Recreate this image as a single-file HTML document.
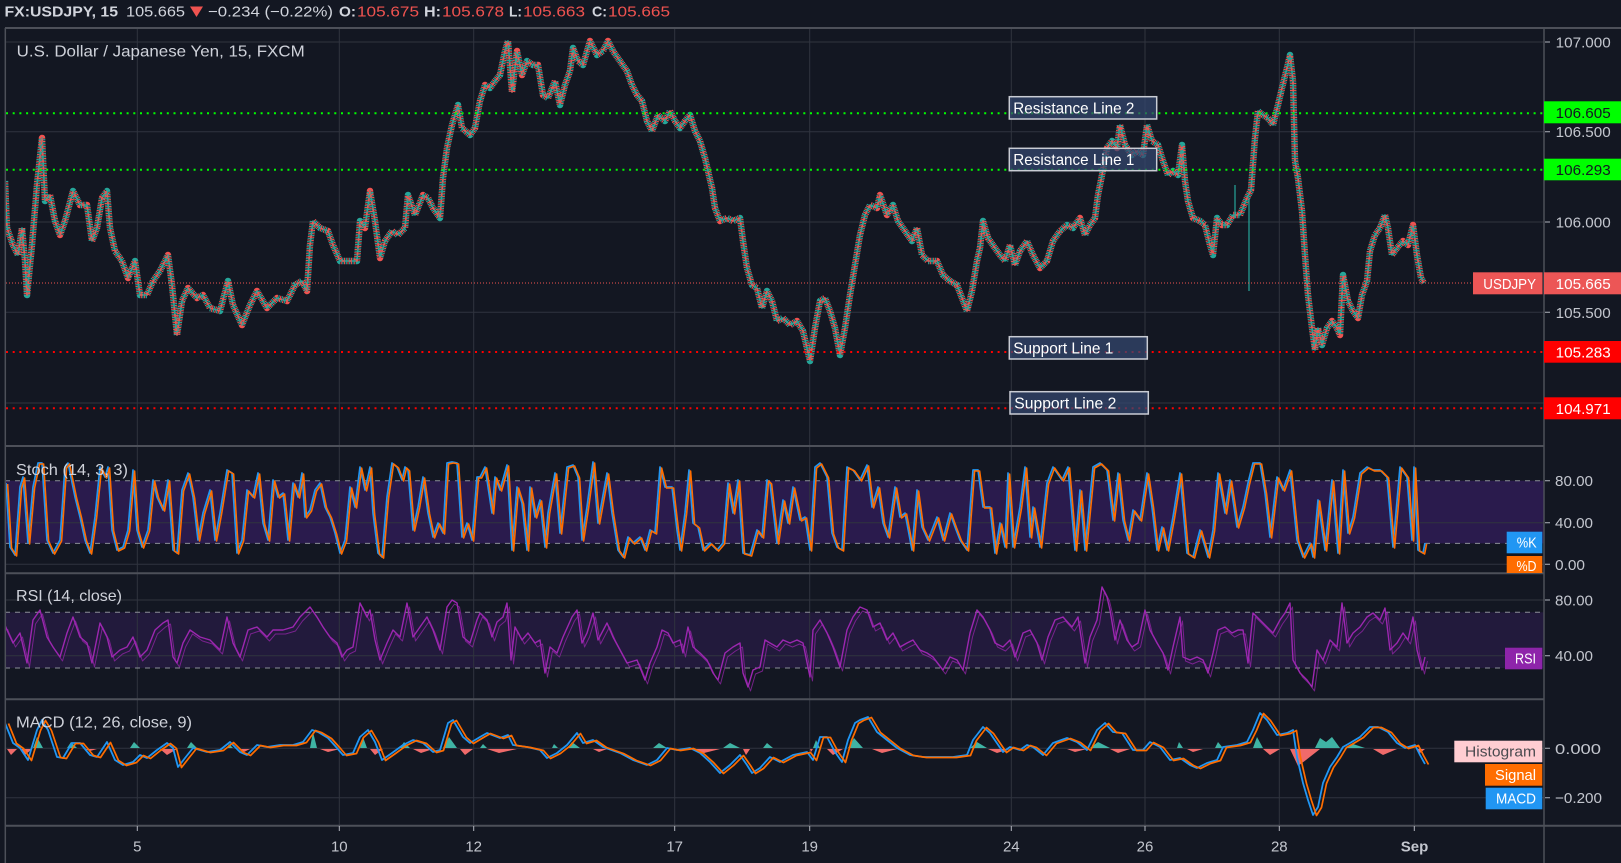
<!DOCTYPE html>
<html><head><meta charset="utf-8">
<style>
html,body{margin:0;padding:0;background:#131722;width:1621px;height:863px;overflow:hidden}
svg{display:block}
text{font-family:"Liberation Sans",sans-serif}
</style></head><body>
<svg width="1621" height="863" viewBox="0 0 1621 863" xmlns="http://www.w3.org/2000/svg">
<rect width="1621" height="863" fill="#131722"/>
<defs>
<clipPath id="cp"><rect x="5" y="28" width="1539" height="418"/></clipPath>
<clipPath id="cs"><rect x="5" y="447" width="1539" height="126"/></clipPath>
<clipPath id="cr"><rect x="5" y="574" width="1539" height="125"/></clipPath>
<clipPath id="cm"><rect x="5" y="700" width="1539" height="126"/></clipPath>
<clipPath id="cd"><rect x="1400" y="447" width="200" height="126"/></clipPath>
<polyline id="price" fill="none" points="5,181 7,228 13,245 18,255 22,228 25,261 27,295 32,245 37,185 42,138 45,201 50,195 55,221 60,235 65,221 73,191 80,205 87,205 92,241 97,228 102,198 107,191 110,228 115,251 122,261 128,278 135,261 140,295 147,295 153,281 160,271 168,255 172,285 177,335 182,301 188,288 197,298 203,295 210,308 220,311 228,281 233,305 242,325 250,305 257,291 267,308 277,298 287,301 295,285 302,281 307,291 310,245 313,221 320,228 328,231 333,245 340,261 348,261 357,261 360,221 365,228 370,191 375,221 380,258 385,241 392,231 398,235 405,228 408,195 415,215 423,195 428,198 433,208 440,218 443,178 447,148 452,125 458,105 462,128 470,135 475,128 480,101 485,85 490,88 495,81 500,75 505,51 508,41 512,92 517,51 522,75 527,61 533,65 538,65 543,95 548,98 555,81 560,105 565,85 570,71 573,48 578,61 583,65 590,41 597,55 603,51 608,41 613,51 620,61 627,71 632,85 637,95 642,101 647,121 652,131 658,115 665,121 670,111 675,121 680,128 685,121 690,115 695,131 700,141 705,158 708,171 712,188 715,208 720,221 727,218 733,221 740,218 743,241 747,268 752,285 757,288 762,308 767,291 772,301 777,321 783,318 790,325 797,321 803,331 810,361 815,328 820,301 825,298 830,311 835,328 840,355 845,328 850,295 855,265 860,235 865,215 870,205 877,208 880,195 887,215 893,205 898,221 905,231 912,241 917,228 922,255 928,261 937,261 943,275 950,281 957,285 962,298 967,311 972,291 977,261 980,248 983,221 988,238 995,248 1000,255 1005,261 1010,245 1015,265 1020,251 1027,241 1033,255 1040,268 1047,261 1053,241 1060,231 1067,225 1073,228 1080,218 1085,235 1090,225 1095,218 1098,195 1102,175 1107,148 1112,141 1117,148 1120,125 1125,145 1132,155 1137,151 1143,155 1147,125 1152,141 1158,145 1163,161 1168,175 1173,171 1178,175 1182,145 1185,181 1188,201 1193,218 1200,221 1205,225 1210,245 1213,255 1217,218 1222,225 1227,225 1233,215 1240,215 1247,198 1251,190 1255,138 1258,111 1263,115 1268,118 1273,125 1278,105 1282,88 1287,68 1290,55 1293,81 1295,161 1298,178 1302,211 1305,255 1308,295 1312,328 1315,350 1318,328 1322,345 1327,328 1332,321 1337,328 1340,335 1343,275 1348,301 1353,311 1358,318 1362,295 1367,281 1370,251 1375,235 1380,228 1385,215 1388,228 1392,255 1397,248 1403,241 1408,245 1413,225 1417,255 1421,278 1424,283"/>
<polyline id="stoch" fill="none" points="6,483 10,547 15,555 20,487 23,477 28,543 33,487 38,463 42,463 47,540 53,553 60,540 65,467 68,463 75,497 80,517 85,540 90,553 95,517 100,467 105,477 108,467 112,530 117,550 123,547 128,530 133,470 137,530 142,547 148,530 153,480 157,497 163,510 168,480 173,550 177,553 182,490 188,473 193,497 198,540 203,513 210,490 215,540 220,513 227,470 232,473 237,553 242,540 247,490 253,497 258,473 263,523 268,540 273,480 278,497 283,493 288,540 293,483 298,497 302,473 305,517 310,510 315,490 320,483 325,507 330,517 335,533 340,553 345,540 350,487 355,507 360,467 365,490 370,467 373,513 378,553 382,557 387,497 392,463 397,467 402,480 405,467 408,470 413,530 418,507 423,477 428,513 433,537 438,523 443,533 447,463 452,462 457,463 462,537 467,523 472,540 477,477 480,477 485,467 492,513 495,477 500,490 507,465 512,550 517,487 522,503 527,550 530,487 535,517 540,500 545,547 548,513 555,473 560,533 567,467 573,465 578,477 582,540 587,507 593,462 598,523 607,473 612,513 618,550 623,557 628,537 633,543 640,537 645,550 650,530 655,533 660,467 665,487 672,487 677,530 680,550 685,513 689,470 693,523 698,527 703,550 710,543 717,550 723,543 728,483 733,513 738,480 743,553 750,555 757,530 762,537 767,480 770,483 777,543 783,500 788,523 793,487 800,520 805,517 810,550 815,467 820,463 827,477 832,533 837,547 842,550 847,467 853,470 860,480 867,465 872,507 878,487 883,523 888,537 895,487 900,517 905,513 912,550 917,490 922,527 928,540 937,517 943,540 950,513 955,527 960,540 967,550 973,470 978,470 983,507 990,507 995,553 1000,523 1005,547 1008,473 1013,547 1020,507 1025,467 1030,537 1033,507 1040,547 1047,483 1053,467 1062,480 1068,467 1075,550 1080,490 1085,550 1093,467 1100,463 1107,470 1113,520 1118,473 1123,520 1128,540 1133,510 1140,520 1147,473 1152,507 1157,550 1162,527 1167,550 1173,517 1180,473 1187,553 1193,557 1200,530 1208,557 1213,530 1218,473 1225,513 1230,480 1237,527 1243,507 1248,483 1253,463 1260,463 1265,493 1270,537 1277,477 1283,490 1290,470 1297,540 1303,557 1310,543 1313,557 1318,500 1325,550 1332,480 1338,553 1343,470 1348,533 1353,517 1360,473 1367,467 1373,470 1380,470 1387,477 1393,547 1400,467 1407,477 1412,540 1414,467 1418,550 1423,553 1425,543"/>
<polyline id="rsi" fill="none" points="5,625 7,630 13,643 20,633 27,663 33,620 40,610 47,637 53,647 60,657 67,633 73,617 80,637 87,643 92,663 100,623 107,637 112,657 120,650 127,647 133,637 140,657 147,650 155,630 163,623 168,620 173,657 177,663 183,643 190,630 200,637 210,640 220,650 227,617 233,643 240,657 248,630 257,627 267,637 273,630 283,630 293,627 300,617 310,607 317,617 323,627 330,637 337,643 342,657 347,650 353,647 360,603 367,617 370,610 375,640 380,660 387,643 393,630 400,637 407,603 413,637 420,627 427,617 433,630 440,650 447,607 452,600 457,603 463,637 470,643 477,620 480,613 487,620 492,637 497,622 503,617 507,603 511,660 515,627 522,640 528,633 535,643 540,640 545,673 550,647 557,653 563,637 572,617 577,610 582,643 587,633 593,613 598,640 607,623 613,637 620,650 627,663 637,660 645,680 650,663 657,647 662,630 668,633 673,643 680,640 683,653 688,627 693,647 700,653 707,660 713,673 718,680 725,653 733,647 740,643 743,673 748,687 753,670 760,667 765,640 770,643 777,647 783,640 790,643 797,640 803,643 810,677 813,630 820,620 827,633 833,647 840,667 847,630 853,617 860,607 867,610 873,627 880,623 887,640 893,633 900,647 907,643 913,640 920,650 927,653 933,657 943,670 950,657 957,660 963,670 970,633 977,610 983,617 990,630 995,643 1003,647 1010,640 1015,657 1023,633 1030,630 1037,643 1042,660 1048,637 1055,620 1063,617 1072,627 1078,617 1085,663 1090,637 1097,620 1102,587 1107,597 1110,610 1115,640 1120,620 1127,640 1132,647 1138,643 1145,610 1150,630 1157,643 1163,653 1168,670 1173,647 1180,617 1183,657 1190,660 1197,657 1203,660 1208,673 1213,653 1218,630 1225,627 1232,633 1238,630 1243,630 1248,663 1253,613 1260,620 1267,627 1273,633 1280,620 1285,613 1290,603 1293,660 1300,673 1307,680 1312,687 1317,650 1323,660 1330,640 1337,647 1342,603 1347,643 1353,633 1360,627 1367,617 1373,613 1380,620 1385,608 1390,650 1397,643 1403,633 1408,640 1413,617 1417,650 1422,670 1425,657"/>
<polyline id="macd" fill="none" points="5,723 13,743 20,748 28,760 37,730 42,720 48,730 57,757 63,758 72,743 80,743 90,755 97,757 107,742 115,760 123,765 133,762 140,755 147,758 157,750 167,743 173,748 178,767 185,758 193,748 207,752 220,750 230,742 240,752 247,755 257,745 267,747 280,745 293,745 303,742 312,730 318,732 328,738 337,748 343,755 353,753 360,737 368,730 375,742 382,760 392,753 403,745 413,740 423,743 433,752 440,750 448,723 453,720 463,737 470,743 480,737 487,733 500,738 508,735 513,745 527,747 540,750 547,758 557,753 567,745 577,733 583,743 593,740 603,747 620,753 633,760 647,765 657,760 667,748 677,750 690,748 700,753 710,762 720,773 730,765 740,755 747,765 752,773 760,768 770,757 780,762 793,755 807,752 813,760 820,737 827,737 835,752 842,762 848,740 855,723 860,720 868,717 877,732 887,740 897,748 910,755 923,757 940,757 953,757 967,755 973,740 983,727 990,733 1003,752 1010,747 1020,750 1027,745 1033,747 1043,755 1053,743 1067,738 1077,742 1087,750 1097,730 1105,723 1113,732 1122,733 1133,750 1143,750 1150,742 1160,747 1170,760 1180,758 1190,765 1197,768 1207,763 1217,760 1223,747 1237,745 1247,742 1253,730 1260,713 1267,720 1277,735 1287,733 1293,730 1297,757 1303,783 1308,800 1313,815 1318,807 1323,783 1330,767 1337,757 1343,747 1350,743 1360,737 1370,727 1378,727 1388,732 1397,743 1405,748 1415,745 1420,755 1425,764"/>
</defs>

<!-- bands -->
<rect x="5" y="480.7" width="1539" height="62.7" fill="#2a1b4d"/>
<rect x="5" y="612.3" width="1539" height="55.7" fill="#221a3c"/>

<!-- grid -->
<g stroke="#30343f" stroke-width="1" fill="none">
<path d="M137.3 28V826M339.3 28V826M473.7 28V826M674.7 28V826M809.7 28V826M1011.3 28V826M1145 28V826M1279.3 28V826M1414.3 28V826"/>
<path d="M5 42H1544M5 131.7H1544M5 222H1544M5 312.3H1544M5 403H1544"/>
<path d="M5 522.7H1544M5 564.3H1544"/>
<path d="M5 600H1544M5 655.7H1544"/>
<path d="M5 748.3H1544M5 797.7H1544"/>
</g>
<g stroke="#8b8e97" stroke-width="1" stroke-dasharray="5 5" fill="none">
<path d="M5 480.7H1544M5 543.4H1544M5 612.3H1544M5 668H1544"/>
</g>

<!-- price series -->
<g clip-path="url(#cp)" stroke-linejoin="round">
<use href="#price" stroke="#26a69a" stroke-width="6.5" stroke-dasharray="1.1 2.3"/>
<use href="#price" stroke="#ef5350" stroke-width="6.5" stroke-dasharray="1.1 2.3" stroke-dashoffset="1.7"/>
<use href="#price" stroke="#26a69a" stroke-width="1.6"/>
<use href="#price" stroke="#ef5350" stroke-width="1.6" stroke-dasharray="3 4"/>
<path d="M1249 198V291M1235 185V218" stroke="#26a69a" stroke-width="1.2"/>
</g>

<!-- stoch -->
<g clip-path="url(#cs)" stroke-linejoin="round">
<use href="#stoch" stroke="#2196f3" stroke-width="1.7"/>
<use href="#stoch" stroke="#ff6d00" stroke-width="1.6" transform="translate(1.6,1)"/>
</g>
<!-- rsi -->
<g clip-path="url(#cr)" stroke-linejoin="round">
<use href="#rsi" stroke="#9c27b0" stroke-width="1" opacity="0.7" transform="translate(2.5,4)"/>
<use href="#rsi" stroke="#9c27b0" stroke-width="1.4"/>
</g>
<!-- macd -->
<g clip-path="url(#cm)" stroke-linejoin="round">
<path fill="#3fb3a4" d="M33 748L37 737L43 748ZM67 748L71 742L77 748ZM130 748L134 742L140 748ZM187 748L191 742L197 748ZM227 748L229 744L233 748ZM310 748L313 732L317 748ZM360 748L363 737L367 748ZM400 748L404 742L410 748ZM443 748L449 737L457 748ZM480 748L483 744L487 748ZM552 748L554 744L558 748ZM567 748L572 742L580 748ZM653 748L659 743L667 748ZM723 748L730 743L740 748ZM763 748L767 743L773 748ZM813 748L816 740L820 748ZM848 748L854 738L863 748ZM970 748L977 742L987 748ZM1090 748L1098 742L1110 748ZM1177 748L1179 742L1183 748ZM1215 748L1218 742L1223 748ZM1253 748L1257 737L1263 748ZM1315 748L1320 738L1326 742L1332 737L1340 748ZM1345 748L1353 744L1365 748Z"/>
<path fill="#f06a6a" d="M7 749L11 755L17 749ZM20 749L25 755L32 749ZM85 749L90 751L97 749ZM160 749L167 755L177 749ZM240 749L244 752L250 749ZM320 749L328 752L340 749ZM370 749L375 755L383 749ZM413 749L421 753L433 749ZM460 749L465 755L473 749ZM487 749L499 753L517 749ZM593 749L599 752L607 749ZM693 749L704 753L720 749ZM743 749L746 755L750 749ZM810 749L811 752L813 749ZM827 749L833 755L843 749ZM872 749L882 753L897 749ZM988 749L997 753L1010 749ZM1067 749L1075 752L1087 749ZM1110 749L1118 753L1130 749ZM1187 749L1193 752L1203 749ZM1263 749L1270 755L1280 749ZM1290 749L1298 766L1306 760L1320 749ZM1373 749L1383 755L1397 749ZM1417 749L1420 753L1425 749Z"/>
<use href="#macd" stroke="#2196f3" stroke-width="1.8"/>
<use href="#macd" stroke="#ff6d00" stroke-width="1.7" transform="translate(3.5,0.5)"/>
</g>

<!-- level lines -->
<g stroke-width="2" stroke-dasharray="2 4.7" fill="none">
<path d="M6 113.3H1544M6 169.7H1544" stroke="#00ff00"/>
<path d="M6 352H1544M6 408.2H1544" stroke="#ff0000"/>
</g>
<path d="M6 283H1473" stroke="#ef5350" stroke-width="1" stroke-dasharray="1 2" fill="none"/>

<!-- drawing labels -->
<g stroke="#c9ccd4" stroke-width="1.5" fill="rgba(52,72,112,0.72)">
<rect x="1009.3" y="96.7" width="147.4" height="22.3"/>
<rect x="1009.3" y="148.3" width="147.4" height="22.4"/>
<rect x="1009.3" y="336.7" width="138" height="22.3"/>
<rect x="1010" y="391.7" width="138.3" height="22.3"/>
</g>
<g fill="#ffffff" font-size="16">
<text x="1013.3" y="113.5" textLength="121" lengthAdjust="spacingAndGlyphs">Resistance Line 2</text>
<text x="1013.3" y="165.2" textLength="121" lengthAdjust="spacingAndGlyphs">Resistance Line 1</text>
<text x="1013.3" y="353.3" textLength="100" lengthAdjust="spacingAndGlyphs">Support Line 1</text>
<text x="1014.3" y="408.3" textLength="102" lengthAdjust="spacingAndGlyphs">Support Line 2</text>
</g>

<!-- separators / borders -->
<g stroke="#4d5059" stroke-width="2" fill="none">
<path d="M5 28H1621M5 446H1544M5 573.3H1544M5 699.3H1544M5 825.7H1621"/>
</g>
<path d="M5.3 28V863M1544 28V863" stroke="#4d5059" stroke-width="1.5" fill="none"/>

<!-- titles -->
<g fill="#cfd2da" font-size="16">
<text x="16.7" y="56.5" textLength="288" lengthAdjust="spacingAndGlyphs">U.S. Dollar / Japanese Yen, 15, FXCM</text>
<text x="16" y="474.8" textLength="112" lengthAdjust="spacingAndGlyphs">Stoch (14, 3, 3)</text>
<text x="16" y="601" textLength="106" lengthAdjust="spacingAndGlyphs">RSI (14, close)</text>
<text x="16" y="727.5" textLength="176" lengthAdjust="spacingAndGlyphs">MACD (12, 26, close, 9)</text>
</g>

<!-- header -->
<g font-size="15">
<text x="4.5" y="16.3" fill="#d1d4dc" font-weight="bold" textLength="113.5" lengthAdjust="spacingAndGlyphs">FX:USDJPY, 15</text>
<text x="126" y="16.3" fill="#d1d4dc" textLength="59" lengthAdjust="spacingAndGlyphs">105.665</text>
<polygon points="190,6.5 203,6.5 196.5,17" fill="#ef5350"/>
<text x="208" y="16.3" fill="#d1d4dc" textLength="125" lengthAdjust="spacingAndGlyphs">−0.234 (−0.22%)</text>
<text x="339" y="16.3" fill="#d1d4dc" font-weight="bold" textLength="17" lengthAdjust="spacingAndGlyphs">O:</text>
<text x="357" y="16.3" fill="#ef5350" textLength="62" lengthAdjust="spacingAndGlyphs">105.675</text>
<text x="424" y="16.3" fill="#d1d4dc" font-weight="bold" textLength="17" lengthAdjust="spacingAndGlyphs">H:</text>
<text x="442" y="16.3" fill="#ef5350" textLength="62" lengthAdjust="spacingAndGlyphs">105.678</text>
<text x="509" y="16.3" fill="#d1d4dc" font-weight="bold" textLength="13" lengthAdjust="spacingAndGlyphs">L:</text>
<text x="523" y="16.3" fill="#ef5350" textLength="62" lengthAdjust="spacingAndGlyphs">105.663</text>
<text x="592" y="16.3" fill="#d1d4dc" font-weight="bold" textLength="15" lengthAdjust="spacingAndGlyphs">C:</text>
<text x="608" y="16.3" fill="#ef5350" textLength="62" lengthAdjust="spacingAndGlyphs">105.665</text>
</g>

<!-- price axis -->
<g stroke="#b2b5be" stroke-width="1">
<path d="M1545 42H1550M1545 131.7H1550M1545 222H1550M1545 312.3H1550M1545 480.7H1550M1545 522.7H1550M1545 564.3H1550M1545 600H1550M1545 655.7H1550M1545 748.3H1550M1545 797.7H1550"/>
</g>
<g fill="#c3c6ce" font-size="15">
<text x="1555.7" y="47.5" textLength="55" lengthAdjust="spacingAndGlyphs">107.000</text>
<text x="1555.7" y="137.2" textLength="55" lengthAdjust="spacingAndGlyphs">106.500</text>
<text x="1555.7" y="227.5" textLength="55" lengthAdjust="spacingAndGlyphs">106.000</text>
<text x="1555.7" y="317.8" textLength="55" lengthAdjust="spacingAndGlyphs">105.500</text>
<text x="1555" y="486.2" textLength="38" lengthAdjust="spacingAndGlyphs">80.00</text>
<text x="1555" y="528.2" textLength="38" lengthAdjust="spacingAndGlyphs">40.00</text>
<text x="1555" y="569.8" textLength="30" lengthAdjust="spacingAndGlyphs">0.00</text>
<text x="1555" y="605.5" textLength="38" lengthAdjust="spacingAndGlyphs">80.00</text>
<text x="1555" y="661.2" textLength="38" lengthAdjust="spacingAndGlyphs">40.00</text>
<text x="1555" y="753.8" textLength="46" lengthAdjust="spacingAndGlyphs">0.000</text>
<text x="1555" y="803.2" textLength="47" lengthAdjust="spacingAndGlyphs">−0.200</text>
</g>
<rect x="1544" y="101.3" width="77" height="22" fill="#00ff00"/>
<rect x="1544" y="158.7" width="77" height="21.6" fill="#00ff00"/>
<rect x="1473" y="272.3" width="69.5" height="22" fill="#ec5656"/>
<rect x="1544" y="272.3" width="77" height="22" fill="#ec5656"/>
<rect x="1544" y="341" width="77" height="21.7" fill="#ff0000"/>
<rect x="1544" y="397.3" width="77" height="22" fill="#ff0000"/>
<g font-size="15">
<text x="1555.7" y="117.8" fill="#131722" textLength="55" lengthAdjust="spacingAndGlyphs">106.605</text>
<text x="1555.7" y="175" fill="#131722" textLength="55" lengthAdjust="spacingAndGlyphs">106.293</text>
<text x="1483.3" y="288.8" fill="#ffffff" textLength="52.7" lengthAdjust="spacingAndGlyphs">USDJPY</text>
<text x="1555.7" y="288.8" fill="#ffffff" textLength="55" lengthAdjust="spacingAndGlyphs">105.665</text>
<text x="1555.7" y="357.4" fill="#ffffff" textLength="55" lengthAdjust="spacingAndGlyphs">105.283</text>
<text x="1555.7" y="413.8" fill="#ffffff" textLength="55" lengthAdjust="spacingAndGlyphs">104.971</text>
</g>
<rect x="1506.7" y="531.7" width="35.6" height="21.6" fill="#2196f3"/>
<g clip-path="url(#cd)">
<rect x="1506.7" y="556" width="35.6" height="21.6" fill="#ff6d00"/>
<text x="1516.5" y="571" fill="#ffffff" font-size="15" textLength="20" lengthAdjust="spacingAndGlyphs">%D</text>
</g>
<rect x="1505" y="647.7" width="37.3" height="21.6" fill="#8e24aa"/>
<rect x="1454.3" y="740.7" width="88" height="21.6" fill="#ffcdd2"/>
<rect x="1485" y="764" width="57.3" height="21.7" fill="#ff6d00"/>
<rect x="1485.7" y="787.7" width="56.6" height="21.6" fill="#2196f3"/>
<g font-size="15" fill="#ffffff">
<text x="1516.7" y="547.6" textLength="20" lengthAdjust="spacingAndGlyphs">%K</text>
<text x="1515" y="663.3" textLength="21" lengthAdjust="spacingAndGlyphs">RSI</text>
<text x="1465" y="756.6" fill="#4a4a4f" textLength="71" lengthAdjust="spacingAndGlyphs">Histogram</text>
<text x="1495" y="780" textLength="41" lengthAdjust="spacingAndGlyphs">Signal</text>
<text x="1496" y="803.6" textLength="40" lengthAdjust="spacingAndGlyphs">MACD</text>
</g>

<!-- time axis -->
<g stroke="#b2b5be" stroke-width="1">
<path d="M137.3 826V831M339.3 826V831M473.7 826V831M674.7 826V831M809.7 826V831M1011.3 826V831M1145 826V831M1279.3 826V831M1414.3 826V831"/>
</g>
<g fill="#c3c6ce" font-size="15" text-anchor="middle">
<text x="137.3" y="851.7">5</text>
<text x="339.3" y="851.7">10</text>
<text x="473.7" y="851.7">12</text>
<text x="674.7" y="851.7">17</text>
<text x="809.7" y="851.7">19</text>
<text x="1011.3" y="851.7">24</text>
<text x="1145" y="851.7">26</text>
<text x="1279.3" y="851.7">28</text>
<text x="1414.5" y="851.7" font-weight="bold">Sep</text>
</g>
</svg>
</body></html>
